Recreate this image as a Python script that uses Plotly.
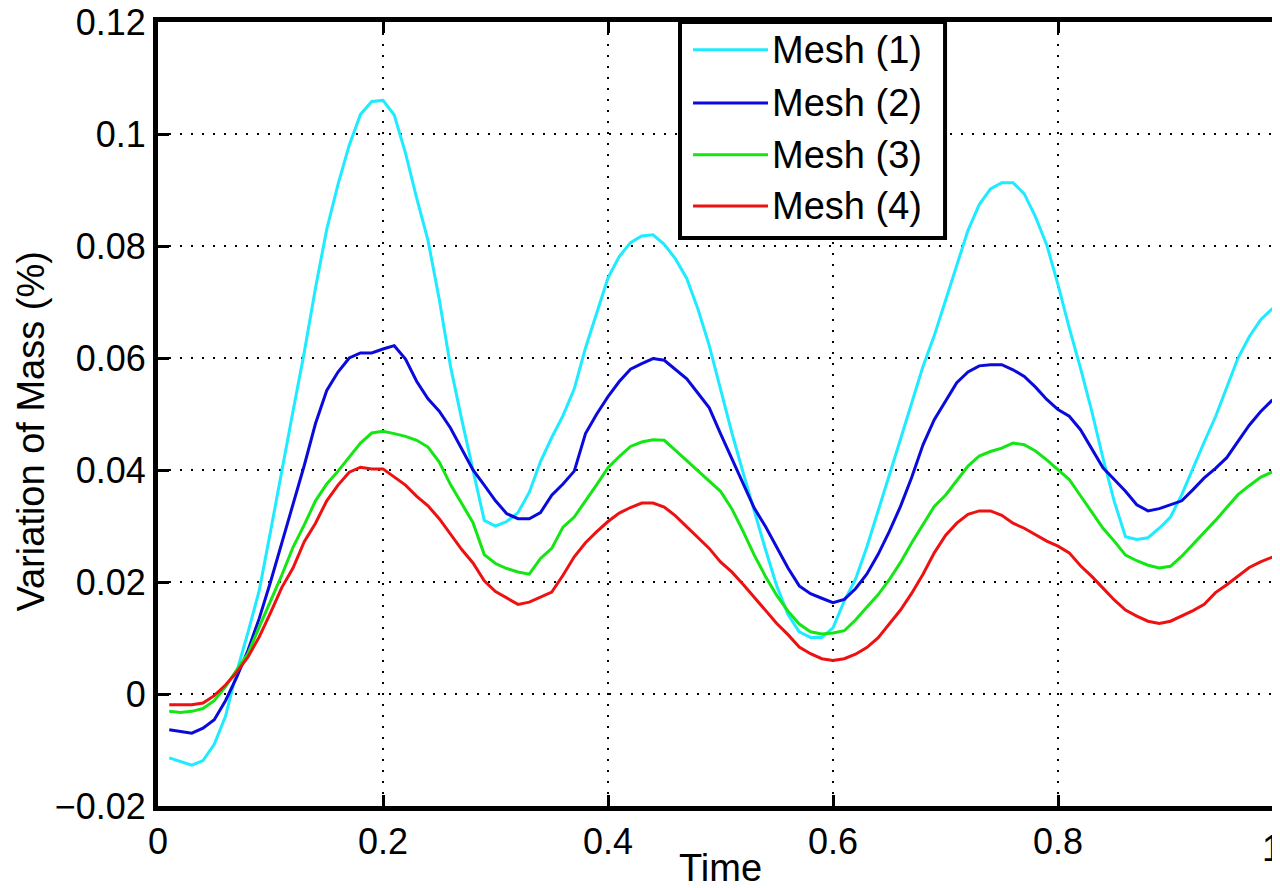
import plotly.graph_objects as go

# sample times (s), one every 0.01
time = [
    0.01, 0.02, 0.03, 0.04, 0.05, 0.06, 0.07, 0.08, 0.09, 0.10,
    0.11, 0.12, 0.13, 0.14, 0.15, 0.16, 0.17, 0.18, 0.19, 0.20,
    0.21, 0.22, 0.23, 0.24, 0.25, 0.26, 0.27, 0.28, 0.29, 0.30,
    0.31, 0.32, 0.33, 0.34, 0.35, 0.36, 0.37, 0.38, 0.39, 0.40,
    0.41, 0.42, 0.43, 0.44, 0.45, 0.46, 0.47, 0.48, 0.49, 0.50,
    0.51, 0.52, 0.53, 0.54, 0.55, 0.56, 0.57, 0.58, 0.59, 0.60,
    0.61, 0.62, 0.63, 0.64, 0.65, 0.66, 0.67, 0.68, 0.69, 0.70,
    0.71, 0.72, 0.73, 0.74, 0.75, 0.76, 0.77, 0.78, 0.79, 0.80,
    0.81, 0.82, 0.83, 0.84, 0.85, 0.86, 0.87, 0.88, 0.89, 0.90,
    0.91, 0.92, 0.93, 0.94, 0.95, 0.96, 0.97, 0.98, 0.99, 1.00,
]

mesh1 = [
    -0.0114, -0.0120, -0.0127, -0.0119, -0.0090, -0.0040, 0.0040, 0.0110, 0.0185, 0.0290,
    0.0400, 0.0505, 0.0610, 0.0725, 0.0830, 0.0910, 0.0980, 0.1035, 0.1058, 0.1060,
    0.1034, 0.0966, 0.0885, 0.0810, 0.0705, 0.0585, 0.0490, 0.0400, 0.0310, 0.0300,
    0.0308, 0.0324, 0.0360, 0.0415, 0.0458, 0.0497, 0.0545, 0.0618, 0.0680, 0.0743,
    0.0781, 0.0806, 0.0818, 0.0820, 0.0803, 0.0777, 0.0742, 0.0687, 0.0622, 0.0542,
    0.0467, 0.0396, 0.0325, 0.0258, 0.0193, 0.0142, 0.0111, 0.0101, 0.0101, 0.0118,
    0.0166, 0.0205, 0.0262, 0.0325, 0.0390, 0.0455, 0.0520, 0.0585, 0.0640, 0.0703,
    0.0767, 0.0828, 0.0874, 0.0902, 0.0913, 0.0913, 0.0893, 0.0852, 0.0802, 0.0731,
    0.0654, 0.0582, 0.0505, 0.0421, 0.0344, 0.0281, 0.0276, 0.0279, 0.0296, 0.0316,
    0.0356, 0.0404, 0.0450, 0.0495, 0.0547, 0.0600, 0.0638, 0.0668, 0.0687, 0.0700,
]

mesh2 = [
    -0.0064, -0.0067, -0.0070, -0.0061, -0.0046, -0.0012, 0.0030, 0.0078, 0.0135, 0.0200,
    0.0270, 0.0342, 0.0408, 0.0483, 0.0542, 0.0575, 0.0600, 0.0609, 0.0609, 0.0616,
    0.0622, 0.0598, 0.0558, 0.0527, 0.0505, 0.0475, 0.0437, 0.0400, 0.0373, 0.0345,
    0.0322, 0.0313, 0.0313, 0.0324, 0.0355, 0.0375, 0.0398, 0.0465, 0.0500, 0.0531,
    0.0558, 0.0580, 0.0590, 0.0599, 0.0596, 0.0580, 0.0563, 0.0537, 0.0511, 0.0465,
    0.0420, 0.0375, 0.0332, 0.0299, 0.0262, 0.0225, 0.0193, 0.0179, 0.0171, 0.0163,
    0.0169, 0.0188, 0.0214, 0.0249, 0.0290, 0.0335, 0.0387, 0.0445, 0.0490, 0.0522,
    0.0556, 0.0575, 0.0586, 0.0588, 0.0588, 0.0579, 0.0567, 0.0548, 0.0526, 0.0508,
    0.0496, 0.0472, 0.0438, 0.0404, 0.0383, 0.0362, 0.0338, 0.0327, 0.0331, 0.0338,
    0.0345, 0.0365, 0.0386, 0.0403, 0.0422, 0.0451, 0.0480, 0.0504, 0.0524, 0.0533,
]

mesh3 = [
    -0.0031, -0.0033, -0.0031, -0.0026, -0.0012, 0.0013, 0.0043, 0.0072, 0.0120, 0.0165,
    0.0212, 0.0262, 0.0302, 0.0345, 0.0375, 0.0398, 0.0424, 0.0448, 0.0466, 0.0469,
    0.0465, 0.0460, 0.0453, 0.0441, 0.0414, 0.0374, 0.0340, 0.0306, 0.0249, 0.0233,
    0.0224, 0.0218, 0.0214, 0.0242, 0.0260, 0.0298, 0.0316, 0.0344, 0.0374, 0.0404,
    0.0424, 0.0442, 0.0450, 0.0454, 0.0453, 0.0435, 0.0417, 0.0398, 0.0381, 0.0362,
    0.0331, 0.0291, 0.0248, 0.0210, 0.0176, 0.0148, 0.0125, 0.0111, 0.0107, 0.0109,
    0.0113, 0.0132, 0.0155, 0.0177, 0.0204, 0.0235, 0.0270, 0.0303, 0.0335, 0.0355,
    0.0382, 0.0407, 0.0425, 0.0433, 0.0439, 0.0448, 0.0445, 0.0434, 0.0418, 0.0401,
    0.0383, 0.0354, 0.0325, 0.0296, 0.0273, 0.0248, 0.0238, 0.0230, 0.0225, 0.0228,
    0.0246, 0.0267, 0.0288, 0.0310, 0.0333, 0.0356, 0.0372, 0.0387, 0.0396, 0.0404,
]

mesh4 = [
    -0.0019, -0.0019, -0.0019, -0.0016, -0.0003, 0.0016, 0.0039, 0.0066, 0.0102, 0.0145,
    0.0190, 0.0225, 0.0272, 0.0305, 0.0345, 0.0373, 0.0396, 0.0405, 0.0402, 0.0402,
    0.0388, 0.0373, 0.0353, 0.0336, 0.0313, 0.0285, 0.0258, 0.0234, 0.0202, 0.0183,
    0.0171, 0.0160, 0.0164, 0.0173, 0.0182, 0.0212, 0.0245, 0.0270, 0.0290, 0.0308,
    0.0323, 0.0333, 0.0341, 0.0341, 0.0334, 0.0318, 0.0299, 0.0279, 0.0260, 0.0236,
    0.0218, 0.0196, 0.0172, 0.0150, 0.0126, 0.0106, 0.0084, 0.0072, 0.0063, 0.0060,
    0.0063, 0.0071, 0.0083, 0.0100, 0.0124, 0.0150, 0.0180, 0.0214, 0.0252, 0.0283,
    0.0305, 0.0321, 0.0327, 0.0327, 0.0319, 0.0305, 0.0296, 0.0285, 0.0273, 0.0264,
    0.0252, 0.0229, 0.0210, 0.0189, 0.0168, 0.0150, 0.0139, 0.0130, 0.0126, 0.0130,
    0.0139, 0.0149, 0.0160, 0.0181, 0.0195, 0.0210, 0.0226, 0.0236, 0.0244, 0.0249,
]

x_ticks = [0, 0.2, 0.4, 0.6, 0.8, 1]
# the "1" at the right edge is written separately so it is not clipped by the page
x_labels = ["0", "0.2", "0.4", "0.6", "0.8", ""]
y_ticks = [-0.02, 0, 0.02, 0.04, 0.06, 0.08, 0.1, 0.12]

names = ["Mesh (1)", "Mesh (2)", "Mesh (3)", "Mesh (4)"]
colors = ["#1EEBFF", "#0A0ADC", "#14E614", "#EE1111"]
series = [mesh1, mesh2, mesh3, mesh4]

FONT = "Liberation Sans, Arial, Helvetica, sans-serif"
TICK_FS = 36
TITLE_FS = 38
LEG_FS = 38

fig = go.Figure()
for name, col, ys in zip(names, colors, series):
    fig.add_trace(go.Scatter(x=time, y=ys, mode="lines", name=name,
                             line=dict(color=col, width=3), showlegend=False))

axis_common = dict(
    showline=True, linecolor="black", linewidth=5, mirror="ticks",
    ticks="inside", ticklen=11, tickwidth=3, tickcolor="black",
    showgrid=True, gridcolor="black", gridwidth=1.5, griddash="2px,9px",
    zeroline=False, ticklabeloverflow="allow", automargin=False,
    tickfont=dict(size=TICK_FS, color="black", family=FONT),
)

fig.update_xaxes(range=[0, 1], tickmode="array", tickvals=x_ticks, ticktext=x_labels,
                 **axis_common)
fig.update_yaxes(range=[-0.02, 0.12], tickmode="array", tickvals=y_ticks, **axis_common)

# axis titles placed by hand so they sit where the matlab export has them
annotations = [
    dict(xref="paper", yref="paper", x=0.5, y=-0.0791, text="Time",
         showarrow=False, xanchor="center", yanchor="middle",
         font=dict(size=TITLE_FS, color="black", family=FONT)),
    dict(xref="paper", yref="paper", x=-0.1133, y=0.477, text="Variation of Mass (%)",
         showarrow=False, textangle=-90, xanchor="center", yanchor="middle",
         font=dict(size=TITLE_FS, color="black", family=FONT)),
    dict(xref="paper", yref="paper", x=1.0005, y=-0.0536, text="1",
         showarrow=False, xanchor="right", yanchor="middle",
         font=dict(size=TICK_FS, color="black", family=FONT)),
]

# hand-drawn legend box (matlab style, long line samples)
shapes = [dict(type="rect", xref="paper", yref="paper",
               x0=0.464, x1=0.6996, y0=0.7245, y1=1.0,
               line=dict(color="black", width=4), fillcolor="white", layer="above")]
row_y = [0.9647, 0.8967, 0.8307, 0.7653]
for name, col, yy in zip(names, colors, row_y):
    shapes.append(dict(type="line", xref="paper", yref="paper",
                       x0=0.4756, x1=0.5422, y0=yy, y1=yy,
                       line=dict(color=col, width=3), layer="above"))
    annotations.append(dict(xref="paper", yref="paper", x=0.544, y=yy,
                            text=name, showarrow=False, xanchor="left", yanchor="middle",
                            font=dict(size=LEG_FS, color="black", family=FONT)))

fig.update_layout(
    width=1280, height=888,
    margin=dict(l=150, r=5, t=14, b=90, autoexpand=False),
    paper_bgcolor="white", plot_bgcolor="white",
    font=dict(family=FONT, color="black", size=TICK_FS),
    shapes=shapes, annotations=annotations,
)

fig.write_html("out.html")
